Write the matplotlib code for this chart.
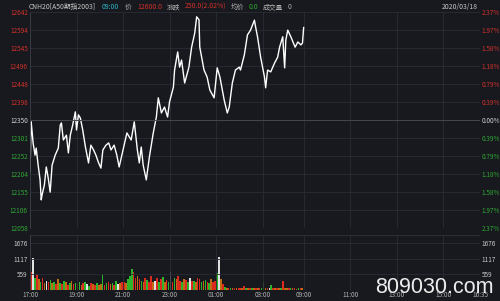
import matplotlib
matplotlib.use('Agg')
from matplotlib import pyplot as plt

# price trace: minutes after 17:00 (night session 17:00-04:45, 09:00 = 706)
minutes = [0, 3, 5, 8, 13, 16, 21, 26, 29, 31, 37, 42, 47, 52, 57, 65, 73, 78, 81, 86,
           94, 99, 104, 110, 117, 120, 125, 130, 136, 143, 151, 157, 164, 170, 177, 183,
           188, 196, 203, 209, 217, 224, 230, 240, 250, 261, 269, 277, 282, 287, 292, 300,
           308, 318, 326, 331, 339, 347, 355, 360, 370, 373, 381, 386, 391, 399, 410, 417,
           425, 430, 436, 438, 449, 457, 464, 475, 483, 490, 501, 509, 514, 522, 530, 540,
           543, 553, 561, 569, 579, 582, 587, 595, 605, 608, 613, 621, 631, 639, 644, 652,
           657, 660, 665, 673, 684, 691, 699, 703, 706]
prices = [12209, 12345, 12323, 12288, 12255, 12274, 12228, 12188, 12134, 12147, 12174,
          12223, 12193, 12155, 12228, 12255, 12274, 12336, 12342, 12296, 12309, 12261,
          12309, 12336, 12372, 12323, 12364, 12355, 12323, 12277, 12234, 12282, 12269,
          12255, 12234, 12220, 12269, 12282, 12288, 12269, 12282, 12255, 12223, 12269,
          12315, 12296, 12345, 12269, 12234, 12277, 12228, 12188, 12250, 12315, 12358,
          12410, 12369, 12385, 12358, 12399, 12439, 12485, 12534, 12493, 12512, 12450,
          12493, 12547, 12585, 12629, 12621, 12547, 12485, 12466, 12431, 12410, 12491,
          12466, 12404, 12369, 12385, 12450, 12485, 12493, 12485, 12526, 12580, 12593,
          12620, 12602, 12575, 12520, 12466, 12437, 12485, 12480, 12504, 12520, 12547,
          12575, 12491, 12566, 12593, 12575, 12547, 12561, 12553, 12558, 12600]

# volume in 5 minute bins, one row per hour from 17:00
volume = [650, 1150, 420, 560, 380, 300, 450, 260, 320, 280, 350, 240,
          300, 220, 380, 260, 200, 340, 280, 180, 250, 320, 200, 260,
          220, 280, 180, 240, 300, 200, 160, 260, 220, 190, 250, 180,
          200, 540, 180, 240, 300, 220, 260, 180, 320, 200, 240, 280,
          300, 260, 380, 520, 760, 640, 420, 500, 380, 320, 280, 420,
          360, 300, 520, 280, 340, 420, 300, 380, 460, 300, 360, 280,
          640, 300, 420, 380, 520, 340, 280, 400, 360, 300, 440, 320,
          340, 300, 420, 380, 280, 320, 360, 300, 260, 380, 300, 340,
          600, 1190, 380, 200, 120, 80, 60, 80, 60, 70, 60, 80,
          60, 80, 140, 60, 70, 60, 90, 60, 70, 60, 80, 60,
          280, 80, 60, 70, 180, 60, 70, 80, 60, 70, 340, 80,
          60, 70, 60, 80, 60, 50, 60, 70, 60]
vol_colors = ('rwgrygrywrgy'
              'grygrgyrgyrg'
              'rgyrgwgryrgy'
              'ygrgrygrgwyr'
              'rygggrryrgyr'
              'grrywrgrgyrg'
              'wrgyrrgyrgwr'
              'gyrrgygrgyrr'
              'gwyrgyrgyryr'
              'ryrgyrgyryrg'
              'gyrwgryrygry'
              'yrgyrygry')

price_ticks = [12642, 12594, 12545, 12496, 12448, 12398, 12350, 12301, 12252, 12204, 12155, 12106, 12058]
pct_labels = ['2.37%', '1.97%', '1.58%', '1.18%', '0.79%', '0.39%', '0.00%',
              '0.39%', '0.79%', '1.18%', '1.58%', '1.97%', '2.37%']
vol_ticks = [559, 1117, 1676]
time_pos = [0, 120, 240, 360, 480, 600, 706, 826, 946, 1066, 1161]
time_labels = ['17:00', '19:00', '21:00', '23:00', '01:00', '03:00', '09:00',
               '11:00', '13:00', '15:00', '16:35']

BG = '#17191e'
GRID = '#2a2d33'
RED = '#d2302a'
GREEN = '#30a834'
WHITE = '#d0d0d0'
FS = 4.6
cmap = {'r': '#dc2a1e', 'g': '#2cb42c', 'y': '#c06a14', 'w': '#e0e0e0'}

plt.rcParams['font.family'] = ['Noto Sans CJK SC', 'DejaVu Sans']


def label_color(p):
    if p > 12350:
        return RED
    return WHITE if p == 12350 else GREEN


fig = plt.figure(figsize=(5.0, 3.01), dpi=100, facecolor=BG)
ax = fig.add_axes([0.06, 1 - 228 / 301, 0.90, 216 / 301], facecolor=BG)
axv = fig.add_axes([0.06, 1 - 290 / 301, 0.90, 55 / 301], facecolor=BG)

for a in (ax, axv):
    for s in a.spines.values():
        s.set_visible(False)
    a.spines['left'].set_visible(True)
    a.spines['left'].set_color('#3a3e46')
    a.spines['left'].set_linewidth(0.6)
    a.set_xlim(0, 1161)
    a.set_xticks(time_pos)
    a.grid(True, color=GRID, linewidth=0.6)
    a.tick_params(length=0, labelsize=FS, colors='#b0b0b0', pad=1.5)

# price panel
ax.plot(minutes, prices, color='white', linewidth=1.0)
ax.set_ylim(12058, 12642)
ax.set_yticks(price_ticks)
ax.set_yticklabels([f'{p}' for p in price_ticks])
ax.set_xticklabels([])
ax.axhline(12350, color='#44474e', linewidth=0.7)
for i, lab in enumerate(ax.get_yticklabels()):
    lab.set_color(label_color(price_ticks[i]))
axr = ax.twinx()
axr.set_ylim(ax.get_ylim())
axr.set_yticks(price_ticks)
axr.set_yticklabels(pct_labels)
for s in axr.spines.values():
    s.set_visible(False)
axr.tick_params(length=0, labelsize=FS, pad=1.0)
for i, lab in enumerate(axr.get_yticklabels()):
    lab.set_color(label_color(price_ticks[i]))

# volume panel
vx = [i * 5 + 2.5 for i in range(len(volume))]
axv.bar(vx, volume, width=4.2, color=[cmap[c] for c in vol_colors], linewidth=0)
axv.set_ylim(0, 1980)
axv.set_yticks(vol_ticks)
axv.set_yticklabels([str(v) for v in vol_ticks])
axv.set_xticklabels(time_labels)
axv.tick_params(axis='y', colors='#c8c8c8')
axv.tick_params(axis='x', pad=1.0)
axv.axhline(1980, color=GRID, linewidth=0.8)
axvr = axv.twinx()
axvr.set_ylim(axv.get_ylim())
axvr.set_yticks(vol_ticks)
axvr.set_yticklabels([str(v) for v in vol_ticks])
for s in axvr.spines.values():
    s.set_visible(False)
axvr.tick_params(length=0, labelsize=FS, pad=1.0, colors='#c8c8c8')

# header line
hy = 1 - 7 / 301
hdr = [(29, 'CNH20[A50期指2003]', '#c8c8c8'), (102, '09:00', '#2ab5c8'),
       (125, '价', '#b0b0b0'), (137, '12600.0', RED), (167, '涨跌', '#b0b0b0'),
       (185, '250.0(2.02%)', RED), (231, '均价', '#b0b0b0'), (249, '0.0', GREEN),
       (263, '成交量', '#b0b0b0'), (288, '0', '#b0b0b0')]
for x, t, c in hdr:
    fig.text(x / 500, hy, t, color=c, fontsize=4.9, va='center', ha='left')
fig.text(478 / 500, hy, '2020/03/18', color='#c8c8c8', fontsize=4.9, va='center', ha='right')

# watermark
fig.text(375 / 500, 1 - 293 / 301, '809030.com', color='#ececec', fontsize=15.5,
         family='Liberation Sans', va='baseline', ha='left')

fig.savefig('out.png', dpi=100, facecolor=BG)
